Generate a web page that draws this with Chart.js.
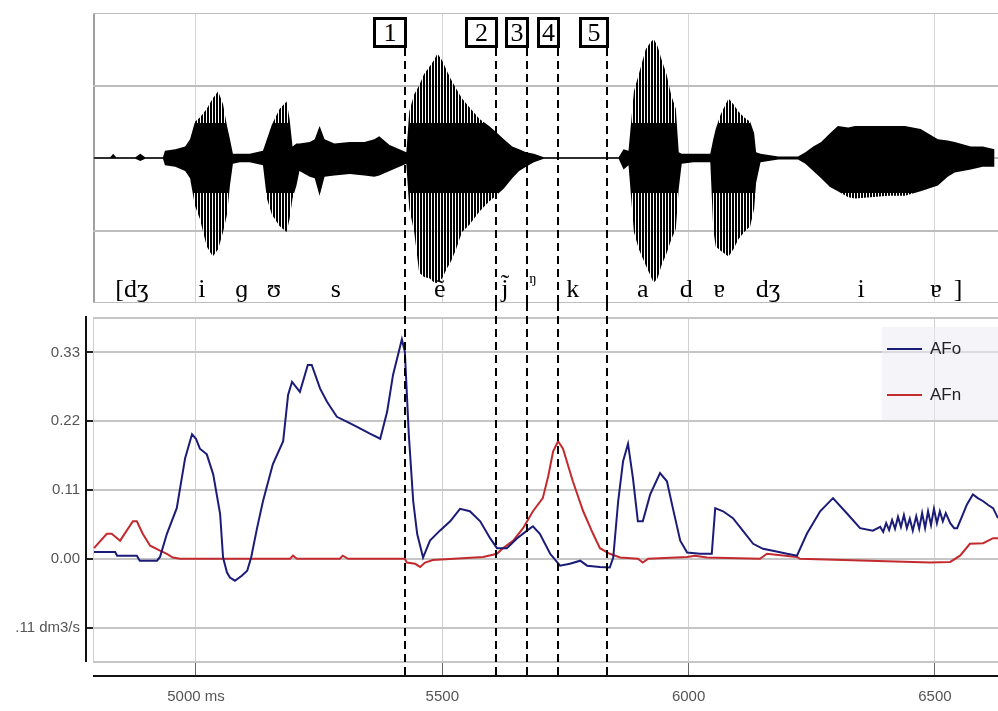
<!DOCTYPE html>
<html>
<head>
<meta charset="utf-8">
<script src="https://cdn.jsdelivr.net/npm/chart.js@4.4.1/dist/chart.umd.min.js"></script>
<style>
html,body{margin:0;padding:0;background:#fff;}
#wrap{position:relative;width:998px;height:711px;overflow:hidden;background:#fff;}
canvas{position:absolute;display:block;}
#wave{left:93px;top:13px;}
#flow{left:0;top:303px;}
.ph{position:absolute;font-family:"Liberation Serif","DejaVu Serif",serif;font-size:26px;line-height:26px;color:#000;white-space:pre;top:276px;transform:translateX(-50%);}
.ph.sup{font-size:15px;line-height:15px;top:271px;}
.box{position:absolute;top:17px;height:31px;box-sizing:border-box;border:3px solid #000;background:#fff;font-family:"Liberation Serif","DejaVu Serif",serif;font-size:26px;line-height:25px;text-align:center;color:#000;overflow:visible;}
#legend{position:absolute;left:882px;top:327px;width:116px;height:93px;background:rgba(236,236,244,0.55);}
.lg{position:absolute;left:5px;height:20px;display:flex;align-items:center;font-family:"Liberation Sans",Arial,sans-serif;font-size:17px;color:#222;}
.lg i{display:inline-block;width:35px;height:2px;margin-right:8px;}
</style>
</head>
<body>
<div id="wrap">
  <canvas id="wave" width="905" height="290"></canvas>
  <canvas id="flow" width="998" height="408"></canvas>
  <div id="legend"></div>
</div>
<script>
// ---------- data ----------
const xMin = 4791, xMax = 6628;                       // ms
const xTickValues = [5000, 5500, 6000, 6500];
const xTickLabels = ['5000 ms', '5500', '6000', '6500'];
const yMin = -0.165, yMax = 0.385;                     // dm3/s
const yTickValues = [-0.11, 0, 0.11, 0.22, 0.33];
const yTickLabels = ['.11 dm3/s', '0.00', '0.11', '0.22', '0.33'];

// acoustic waveform envelope (normalised amplitude)
const waveTime = [4792,4826,4832,4838,4877,4887,4897,4933,4937,4958,4978,4988,4998,5008,5022,5034,5045,5055,5063,5069,5075,5089,5109,5136,5144,5154,5170,5184,5190,5196,5204,5210,5231,5241,5251,5261,5281,5312,5342,5362,5372,5393,5413,5427,5433,5443,5453,5463,5474,5484,5490,5500,5508,5518,5528,5540,5555,5575,5595,5609,5625,5642,5656,5670,5686,5706,5858,5868,5878,5889,5899,5913,5921,5929,5937,5945,5955,5965,5974,5980,5986,6010,6044,6050,6055,6065,6081,6091,6101,6113,6125,6133,6137,6146,6182,6222,6237,6253,6269,6287,6303,6324,6338,6370,6405,6439,6471,6506,6526,6540,6573,6597,6621];
const waveUpper = [0.006,0.006,0.03,0.006,0.006,0.03,0.006,0.006,0.05,0.06,0.08,0.13,0.25,0.28,0.34,0.41,0.46,0.37,0.22,0.13,0.03,0.03,0.03,0.05,0.13,0.23,0.34,0.39,0.27,0.08,0.10,0.10,0.11,0.13,0.22,0.13,0.10,0.11,0.11,0.13,0.15,0.09,0.06,0.04,0.32,0.44,0.50,0.58,0.63,0.68,0.72,0.67,0.61,0.54,0.48,0.41,0.35,0.27,0.22,0.18,0.13,0.08,0.06,0.04,0.03,0.006,0.006,0.06,0.05,0.46,0.58,0.75,0.79,0.82,0.77,0.68,0.58,0.43,0.34,0.04,0.03,0.03,0.03,0.13,0.20,0.30,0.41,0.37,0.32,0.28,0.25,0.17,0.04,0.03,0.01,0.01,0.04,0.08,0.11,0.17,0.22,0.21,0.22,0.22,0.22,0.22,0.20,0.13,0.12,0.11,0.08,0.08,0.06];
const waveLower = [-0.006,-0.006,-0.006,-0.006,-0.006,-0.02,-0.006,-0.006,-0.05,-0.06,-0.09,-0.14,-0.33,-0.42,-0.61,-0.68,-0.63,-0.51,-0.39,-0.19,-0.04,-0.03,-0.03,-0.05,-0.28,-0.39,-0.47,-0.51,-0.42,-0.28,-0.19,-0.09,-0.13,-0.14,-0.26,-0.13,-0.12,-0.11,-0.12,-0.13,-0.12,-0.09,-0.06,-0.04,-0.35,-0.51,-0.79,-0.82,-0.83,-0.86,-0.86,-0.83,-0.77,-0.71,-0.63,-0.51,-0.46,-0.37,-0.30,-0.26,-0.21,-0.14,-0.09,-0.06,-0.03,-0.006,-0.006,-0.08,-0.05,-0.51,-0.63,-0.74,-0.80,-0.86,-0.83,-0.74,-0.66,-0.56,-0.49,-0.21,-0.04,-0.03,-0.03,-0.49,-0.61,-0.64,-0.68,-0.63,-0.56,-0.51,-0.47,-0.35,-0.17,-0.03,-0.01,-0.01,-0.04,-0.09,-0.14,-0.20,-0.23,-0.27,-0.28,-0.27,-0.26,-0.26,-0.23,-0.19,-0.13,-0.10,-0.08,-0.06,-0.06];
const waveGrid = [-1, -0.5, 0, 0.5, 1];

// oral (AFo) and nasal (AFn) airflow, dm3/s
const afoTime = [4793,4836,4840,4880,4886,4921,4927,4941,4961,4978,4992,5000,5008,5022,5035,5049,5055,5063,5069,5079,5093,5104,5112,5124,5136,5156,5177,5187,5195,5211,5227,5235,5252,5266,5286,5307,5327,5353,5374,5388,5400,5418,5424,5432,5441,5449,5461,5475,5495,5516,5536,5556,5577,5597,5611,5631,5652,5672,5684,5698,5719,5739,5759,5780,5794,5820,5840,5847,5857,5867,5877,5887,5897,5907,5922,5942,5956,5968,5983,5997,6023,6037,6047,6054,6070,6090,6110,6131,6151,6171,6200,6220,6240,6267,6293,6322,6348,6374,6389,6395,6401,6407,6413,6419,6425,6431,6437,6443,6449,6455,6462,6468,6474,6480,6486,6492,6498,6504,6510,6516,6522,6531,6539,6545,6555,6565,6577,6587,6598,6608,6618,6628];
const afoValue = [0.011,0.011,0.005,0.005,-0.003,-0.003,0.003,0.040,0.081,0.161,0.199,0.192,0.176,0.167,0.135,0.072,0.002,-0.022,-0.030,-0.035,-0.027,-0.019,0.002,0.049,0.092,0.151,0.188,0.262,0.283,0.267,0.310,0.310,0.272,0.251,0.227,0.219,0.211,0.200,0.192,0.235,0.294,0.351,0.331,0.199,0.092,0.040,0.002,0.029,0.045,0.060,0.080,0.076,0.060,0.033,0.017,0.017,0.033,0.045,0.052,0.040,0.008,-0.011,-0.008,-0.003,-0.011,-0.013,-0.014,0.002,0.092,0.156,0.184,0.129,0.060,0.060,0.103,0.137,0.124,0.081,0.029,0.010,0.008,0.008,0.008,0.081,0.076,0.065,0.045,0.024,0.016,0.013,0.008,0.005,0.040,0.076,0.097,0.072,0.049,0.045,0.051,0.043,0.057,0.046,0.062,0.048,0.067,0.051,0.070,0.049,0.064,0.045,0.068,0.048,0.073,0.049,0.076,0.054,0.080,0.057,0.076,0.060,0.073,0.057,0.049,0.049,0.068,0.087,0.103,0.097,0.092,0.086,0.081,0.065];
const afnTime = [4793,4819,4829,4846,4872,4880,4892,4907,4927,4941,4953,4968,5191,5197,5205,5292,5298,5309,5424,5428,5445,5455,5465,5481,5583,5611,5623,5644,5664,5684,5704,5715,5725,5735,5745,5765,5786,5806,5820,5840,5861,5897,5907,5918,5997,6013,6037,6145,6159,6196,6220,6226,6490,6531,6551,6571,6598,6618,6628];
const afnValue = [0.017,0.040,0.040,0.029,0.060,0.060,0.040,0.021,0.013,0.008,0.002,0,0,0.005,0,0,0.005,0,0,-0.006,-0.008,-0.013,-0.006,-0.002,0.003,0.008,0.017,0.029,0.049,0.076,0.097,0.132,0.172,0.188,0.176,0.124,0.076,0.040,0.017,0.008,0.002,0,-0.006,0,0.003,0.005,0.002,0,0.008,0.005,0.003,0,-0.006,-0.005,0.005,0.024,0.025,0.033,0.033];

// segment boundaries (ms) and their numbers
const boundaryTimes = [5424, 5609, 5672, 5735, 5834];
const boundaryLabels = ['1', '2', '3', '4', '5'];

// phonetic transcription (centre time, ms)
const phoneLabels = ['[dʒ', 'i', 'ɡ', 'ʊ', 's', 'ẽ', 'j̃', 'ŋ', 'k', 'a', 'd', 'ɐ', 'dʒ', 'i', 'ɐ', ']'];
const phoneTimes  = [4870, 5012, 5093, 5158, 5284, 5495, 5627, 5684, 5765, 5907, 5995, 6062, 6161, 6350, 6502, 6547];

// ---------- styles (not data) ----------
const boxWidths = [34, 33, 24, 23, 30];
const supPhones = [7];
const seriesColors = ['#1b1b78', '#c22a2e'];
const tickFont = {family: '"Liberation Sans",Arial,sans-serif', size: 15};

// striped texture for the waveform: solid core, separate spikes further out
function spikePattern(canvas, coreHalf) {
  const h = canvas.height, mid = h / 2;
  const c = document.createElement('canvas');
  c.width = 3; c.height = h;
  const g = c.getContext('2d');
  g.fillStyle = '#000';
  g.fillRect(0, 0, 2, h);
  g.fillRect(2, mid - coreHalf, 1, coreHalf * 2);
  return canvas.getContext('2d').createPattern(c, 'repeat');
}

function boundaryLines(y0fn, y1fn) {
  return {
    id: 'boundaryLines',
    afterDatasetsDraw(chart) {
      const ctx = chart.ctx, xs = chart.scales.x;
      ctx.save();
      ctx.strokeStyle = '#000';
      ctx.lineWidth = 2;
      ctx.setLineDash([8, 5]);
      boundaryTimes.forEach(t => {
        const x = Math.round(xs.getPixelForValue(t));
        ctx.beginPath();
        ctx.moveTo(x, y0fn(chart));
        ctx.lineTo(x, y1fn(chart));
        ctx.stroke();
      });
      ctx.restore();
    }
  };
}

const axisLines = {
  id: 'axisLines',
  afterDraw(chart) {
    const ctx = chart.ctx, a = chart.chartArea;
    ctx.save();
    ctx.strokeStyle = '#111';
    ctx.lineWidth = 2;
    ctx.beginPath();
    ctx.moveTo(a.left - 7, a.top - 2);
    ctx.lineTo(a.left - 7, a.bottom);
    ctx.stroke();
    ctx.beginPath();
    ctx.moveTo(a.left, a.bottom + 14);
    ctx.lineTo(a.right, a.bottom + 14);
    ctx.stroke();
    ctx.restore();
  }
};

// ---------- waveform panel ----------
const waveCanvas = document.getElementById('wave');
const waveFill = spikePattern(waveCanvas, 35);
const waveChart = new Chart(waveCanvas, {
  type: 'line',
  data: {
    datasets: [
      {label: 'upper', data: waveTime.map((t, i) => ({x: t, y: waveUpper[i]})), borderColor: '#000', borderWidth: 0, backgroundColor: waveFill, fill: '+1', pointRadius: 0, tension: 0},
      {label: 'lower', data: waveTime.map((t, i) => ({x: t, y: waveLower[i]})), borderColor: '#000', borderWidth: 0, fill: false, pointRadius: 0, tension: 0}
    ]
  },
  options: {
    responsive: false, animation: false, devicePixelRatio: 1,
    layout: {padding: 0},
    plugins: {legend: {display: false}, tooltip: {enabled: false}},
    scales: {
      x: {
        type: 'linear', min: xMin, max: xMax,
        afterBuildTicks: s => { s.ticks = [xMin, ...xTickValues].map(v => ({value: v})); },
        ticks: {display: false},
        grid: {drawTicks: false, color: c => c.tick && c.tick.value === xMin ? '#a0a0a0' : '#d6d6d6', lineWidth: c => c.tick && c.tick.value === xMin ? 3 : 1},
        border: {display: false}
      },
      y: {
        min: -1, max: 1,
        afterBuildTicks: s => { s.ticks = waveGrid.map(v => ({value: v})); },
        ticks: {display: false},
        grid: {drawTicks: false, color: '#bdbdbd', lineWidth: 2},
        border: {display: false}
      }
    }
  },
  plugins: [boundaryLines(() => 35, ch => ch.height)]
});

// ---------- airflow panel ----------
const flowChart = new Chart(document.getElementById('flow'), {
  type: 'line',
  data: {
    datasets: [
      {label: 'AFo', data: afoTime.map((t, i) => ({x: t, y: afoValue[i]})), borderColor: seriesColors[0], borderWidth: 2, pointRadius: 0, tension: 0, fill: false},
      {label: 'AFn', data: afnTime.map((t, i) => ({x: t, y: afnValue[i]})), borderColor: seriesColors[1], borderWidth: 2, pointRadius: 0, tension: 0, fill: false}
    ]
  },
  options: {
    responsive: false, animation: false, devicePixelRatio: 1,
    layout: {padding: {top: 14, left: 0, right: 0, bottom: 0}},
    plugins: {legend: {display: false}, tooltip: {enabled: false}},
    scales: {
      x: {
        type: 'linear', min: xMin, max: xMax,
        afterBuildTicks: s => { s.ticks = [xMin, ...xTickValues].map(v => ({value: v})); },
        afterFit: s => { s.height = 49; },
        ticks: {
          autoSkip: false, maxRotation: 0, padding: 12, color: '#555', font: tickFont,
          callback: v => { const i = xTickValues.indexOf(v); return i < 0 ? '' : xTickLabels[i]; }
        },
        grid: {color: '#d0d0d0', lineWidth: 1, tickLength: 14,
               tickColor: c => c.tick && c.tick.value === xMin ? 'rgba(0,0,0,0)' : '#666'},
        border: {display: false}
      },
      y: {
        min: yMin, max: yMax,
        afterBuildTicks: s => { s.ticks = [yMin, ...yTickValues, yMax].map(v => ({value: v})); },
        afterFit: s => { s.width = 93; },
        ticks: {
          padding: 6, color: '#555', font: tickFont,
          callback: v => { const i = yTickValues.indexOf(v); return i < 0 ? '' : yTickLabels[i]; }
        },
        grid: {color: '#c6c6c6', lineWidth: 2, tickLength: 7,
               tickColor: c => c.tick && yTickValues.indexOf(c.tick.value) >= 0 ? '#222' : 'rgba(0,0,0,0)'},
        border: {display: false}
      }
    }
  },
  plugins: [axisLines, boundaryLines(() => 0, ch => ch.chartArea.bottom + 14)]
});

// ---------- HTML text overlays, positioned through the chart's x scale ----------
const wrap = document.getElementById('wrap');
const xs = flowChart.scales.x;

boundaryTimes.forEach((t, i) => {
  const x = Math.round(xs.getPixelForValue(t));
  const d = document.createElement('div');
  d.className = 'box';
  d.style.width = boxWidths[i] + 'px';
  d.style.left = (x + 2 - boxWidths[i]) + 'px';
  d.textContent = boundaryLabels[i];
  wrap.appendChild(d);
});

phoneLabels.forEach((p, i) => {
  const s = document.createElement('span');
  s.className = 'ph' + (supPhones.indexOf(i) >= 0 ? ' sup' : '');
  s.style.left = xs.getPixelForValue(phoneTimes[i]) + 'px';
  s.textContent = p;
  wrap.appendChild(s);
});

const legend = document.getElementById('legend');
flowChart.data.datasets.forEach((ds, i) => {
  const row = document.createElement('div');
  row.className = 'lg';
  row.style.top = (12 + i * 46) + 'px';
  const sw = document.createElement('i');
  sw.style.background = ds.borderColor;
  row.appendChild(sw);
  row.appendChild(document.createTextNode(ds.label));
  legend.appendChild(row);
});
</script>
</body>
</html>
